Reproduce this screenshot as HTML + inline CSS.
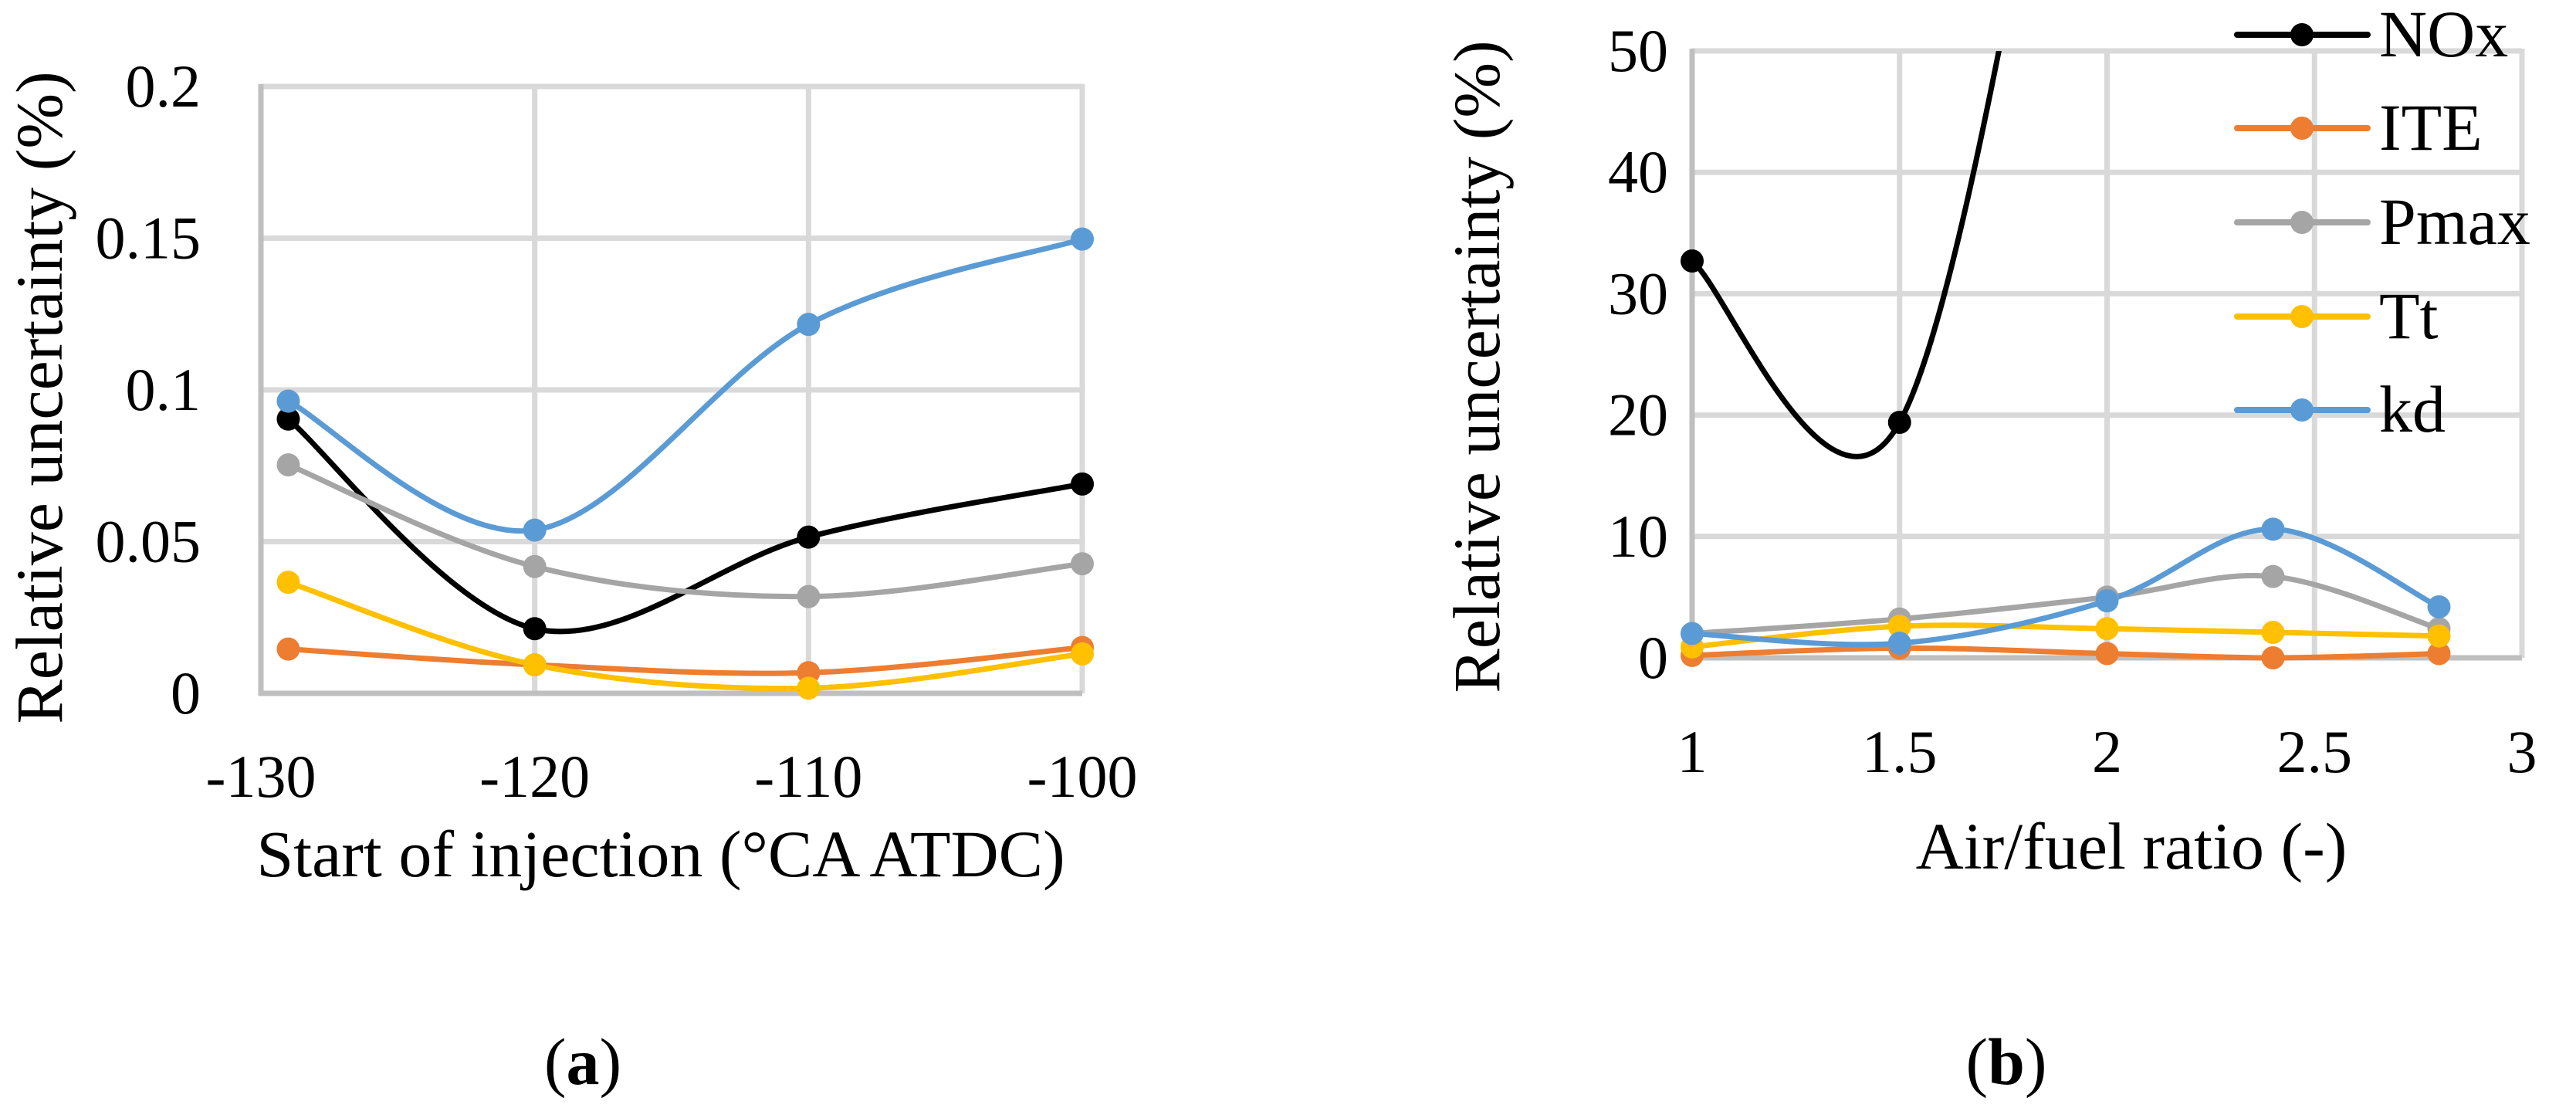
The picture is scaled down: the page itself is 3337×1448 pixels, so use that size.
<!DOCTYPE html>
<html><head><meta charset="utf-8"><title>Relative uncertainty charts</title>
<style>
html,body{margin:0;padding:0;background:#fff;}
svg{display:block;font-family:"Liberation Serif",serif;}
</style></head>
<body>
<svg id="chart" width="3337" height="1448" viewBox="0 0 3337 1448" xmlns="http://www.w3.org/2000/svg">
<defs><clipPath id="clipB"><rect x="2150" y="66" width="1187" height="900"/></clipPath></defs>
<g id="pa"></g>
<g id="pb"></g>
</svg>
<script>
// ---- Chart (a) data ----
const aX = [-129, -120, -110, -100];
const aXTicks = [-130, -120, -110, -100];
const aYTicks = [0, 0.05, 0.1, 0.15, 0.2];
const aYTickLabels = ["0", "0.05", "0.1", "0.15", "0.2"];
const aNOx = [0.0904, 0.0213, 0.0515, 0.069];
const aITE = [0.0146, 0.0094, 0.0068, 0.0151];
const aPmax = [0.0753, 0.0418, 0.0319, 0.0427];
const aTt = [0.0366, 0.0094, 0.0017, 0.013];
const aKd = [0.0963, 0.0538, 0.1216, 0.1497];
// ---- Chart (b) data ----
const bX = [1, 1.5, 2, 2.4, 2.8];
const bXTicks = [1, 1.5, 2, 2.5, 3];
const bYTicks = [0, 10, 20, 30, 40, 50];
const bNOx = [32.7, 19.4, 95, 150, 100];
const bITE = [0.2, 0.8, 0.35, 0.0, 0.35];
const bPmax = [2.0, 3.2, 5.0, 6.7, 2.4];
const bTt = [0.9, 2.6, 2.4, 2.1, 1.8];
const bKd = [2.0, 1.2, 4.7, 10.6, 4.2];
const seriesNames = ["NOx", "ITE", "Pmax", "Tt", "kd"];
const colors = ["#000000", "#ED7D31", "#A5A5A5", "#FFC000", "#5B9BD5"];

const NS = "http://www.w3.org/2000/svg";
function mk(parent, tag, attrs) {
  const e = document.createElementNS(NS, tag);
  for (const k in attrs) e.setAttribute(k, attrs[k]);
  parent.appendChild(e);
  return e;
}
function smoothPath(pts) {
  let d = "M" + pts[0][0] + "," + pts[0][1];
  for (let i = 0; i < pts.length - 1; i++) {
    const p0 = pts[i - 1] || pts[i], p1 = pts[i], p2 = pts[i + 1], p3 = pts[i + 2] || pts[i + 1];
    const c1x = p1[0] + (p2[0] - p0[0]) / 6, c1y = p1[1] + (p2[1] - p0[1]) / 6;
    const c2x = p2[0] - (p3[0] - p1[0]) / 6, c2y = p2[1] - (p3[1] - p1[1]) / 6;
    d += " C" + c1x + "," + c1y + " " + c2x + "," + c2y + " " + p2[0] + "," + p2[1];
  }
  return d;
}

function drawChart(g, cfg) {
  const sx = v => cfg.x0 + (v - cfg.xmin) / (cfg.xmax - cfg.xmin) * (cfg.x1 - cfg.x0);
  const sy = v => cfg.y0 - (v - cfg.ymin) / (cfg.ymax - cfg.ymin) * (cfg.y0 - cfg.y1);
  cfg.yTicks.forEach((t, i) => {
    if (t !== cfg.ymin) {
      const l = mk(g, "line", {x1: cfg.x0, x2: cfg.x1, y1: sy(t), y2: sy(t), stroke: "#d9d9d9", "stroke-width": 7});
      
      
    }
    const tx = mk(g, "text", {x: cfg.yLabelX, y: sy(t) + 26, "text-anchor": "end", "font-size": 78, fill: "#000"});
    tx.textContent = cfg.yLabels[i];
    
    
  });
  cfg.xTicks.forEach(t => {
    if (t !== cfg.xmin) {
      const l = mk(g, "line", {x1: sx(t), x2: sx(t), y1: cfg.y1 - 3, y2: cfg.y0, stroke: "#d9d9d9", "stroke-width": 7});
      
      
    }
    const tx = mk(g, "text", {x: sx(t), y: cfg.xLabelY, "text-anchor": "middle", "font-size": 78, fill: "#000"});
    tx.textContent = String(t);
    
    
  });
  const ya = mk(g, "line", {x1: cfg.x0, x2: cfg.x0, y1: cfg.y1 - 3, y2: cfg.y0 + 3, stroke: "#bfbfbf", "stroke-width": 7});
  
  
  const xa = mk(g, "line", {x1: cfg.x0 - 3, x2: cfg.x1, y1: cfg.y0, y2: cfg.y0, stroke: "#bfbfbf", "stroke-width": 7});
  
  
  const sg = mk(g, "g", cfg.clip ? {"clip-path": "url(#" + cfg.clip + ")"} : {});
  
  
  cfg.series.forEach((vals, si) => {
    const pts = vals.map((v, i) => [sx(cfg.xs[i]), sy(v)]);
    const p = mk(sg, "path", {d: smoothPath(pts), fill: "none", stroke: colors[si], "stroke-width": 7, "stroke-linecap": "round"});
    
    
  });
  cfg.series.forEach((vals, si) => {
    vals.forEach((v, i) => {
      if (v > cfg.ymax) return;
      const c = mk(sg, "circle", {cx: sx(cfg.xs[i]), cy: sy(v), r: 15, fill: colors[si]});
      
      
    });
  });
  const xt = mk(g, "text", {x: cfg.xTitleX, y: cfg.xTitleY, "text-anchor": "middle", "font-size": 86, fill: "#000"});
  xt.textContent = cfg.xTitle;
  
  
  const yt = mk(g, "text", {transform: "translate(" + cfg.yTitleX + "," + cfg.yTitleY + ") rotate(-90)", "text-anchor": "middle", "font-size": 86, fill: "#000"});
  yt.textContent = "Relative uncertainty (%)";
  
  
  const cap = mk(g, "text", {x: cfg.capX, y: 1404, "text-anchor": "middle", "font-size": 86, fill: "#000"});
  cap.innerHTML = '(<tspan font-weight="bold">' + cfg.cap + '</tspan>)';
  
  
}

drawChart(document.getElementById("pa"), {
  x0: 338, x1: 1402, y0: 898, y1: 112, xmin: -130, xmax: -100, ymin: 0, ymax: 0.2,
  xs: aX, xTicks: aXTicks, yTicks: aYTicks, yLabels: aYTickLabels,
  series: [aNOx, aITE, aPmax, aTt, aKd],
  yLabelX: 260, xLabelY: 1032, xTitle: "Start of injection (\u00B0CA ATDC)", xTitleX: 856, xTitleY: 1135,
  yTitleX: 80, yTitleY: 515, capX: 755, cap: "a"
});
drawChart(document.getElementById("pb"), {
  x0: 2192, x1: 3267, y0: 852, y1: 66, xmin: 1, xmax: 3, ymin: 0, ymax: 50,
  xs: bX, xTicks: bXTicks, yTicks: bYTicks, yLabels: bYTicks.map(String),
  series: [bNOx, bITE, bPmax, bTt, bKd], clip: "clipB",
  yLabelX: 2161, xLabelY: 1000, xTitle: "Air/fuel ratio (-)", xTitleX: 2761, xTitleY: 1125,
  yTitleX: 1942, yTitleY: 475, capX: 2599, cap: "b"
});

const legendRows = [45, 166, 288, 410, 531];
const lg = mk(document.getElementById("pb"), "g", {});


seriesNames.forEach((n, i) => {
  const y = legendRows[i];
  const e = mk(lg, "g", {});
  
  
  mk(e, "line", {x1: 2898, x2: 3067, y1: y, y2: y, stroke: colors[i], "stroke-width": 8, "stroke-linecap": "round"});
  mk(e, "circle", {cx: 2982, cy: y, r: 15, fill: colors[i]});
  const t = mk(e, "text", {x: 3082, y: y + 28, "font-size": 86, fill: "#000"});
  t.textContent = n;
});
</script>
</body></html>
